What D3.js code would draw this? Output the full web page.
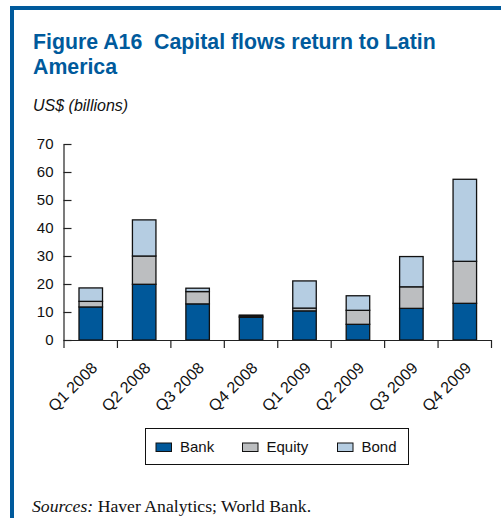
<!DOCTYPE html>
<html>
<head>
<meta charset="utf-8">
<script src="https://cdn.jsdelivr.net/npm/d3@7"></script>
<style>
  html, body { margin: 0; padding: 0; background: #fff; }
  svg { display: block; }
</style>
</head>
<body>
<script>
// Quarterly capital flows to Latin America, US$ billions
const quarters = ["Q1 2008", "Q2 2008", "Q3 2008", "Q4 2008", "Q1 2009", "Q2 2009", "Q3 2009", "Q4 2009"];
const bank   = [11.8, 19.9, 12.9, 8.1, 10.4, 5.6, 11.3, 13.1];
const equity = [2.0, 10.1, 4.4, 0.4, 1.0, 5.0, 7.7, 15.0];
const bond   = [4.8, 12.9, 1.2, 0.4, 9.7, 5.2, 10.8, 29.3];
const seriesNames = ["Bank", "Equity", "Bond"];
const yTicks = [0, 10, 20, 30, 40, 50, 60, 70];

const W = 501, H = 518;
const SANS = "'Liberation Sans', Arial, Helvetica, sans-serif";
const SERIF = "'Liberation Serif', 'Times New Roman', serif";
const frameBlue = "#005a9c";
const colors = { Bank: "#00589a", Equity: "#bcbec0", Bond: "#b5cde2" };

const svg = d3.select("body").append("svg").attr("width", W).attr("height", H);

// Frame: heavy rule along the top and left edges
svg.append("rect").attr("x", 10).attr("y", 6).attr("width", W - 10).attr("height", 4).attr("fill", frameBlue);
svg.append("rect").attr("x", 10).attr("y", 6).attr("width", 4).attr("height", H - 6).attr("fill", frameBlue);

// Title
const title = svg.append("text")
  .style("font-family", SANS).style("font-weight", "bold").style("font-size", "21.3px")
  .attr("fill", frameBlue);
title.append("tspan").attr("x", 33).attr("y", 49).text("Figure A16\u00a0\u00a0Capital flows return to Latin");
title.append("tspan").attr("x", 33).attr("y", 74).text("America");

svg.append("text").attr("x", 33).attr("y", 111)
  .style("font-family", SANS).style("font-style", "italic").style("font-size", "16px")
  .attr("fill", "#111")
  .text("US$ (billions)");

// Scales
const x0 = 63.5, x1 = 491;
const x = d3.scaleBand().domain(quarters).range([x0, x1]).padding(0);
const y = d3.scaleLinear().domain([0, 70]).range([340, 144]);

// Stacked layout
const rows = quarters.map((q, i) => ({ q, Bank: bank[i], Equity: equity[i], Bond: bond[i] }));
const stack = d3.stack().keys(seriesNames)(rows);

const barPad = 0.29, barFrac = 0.44;
svg.append("g").selectAll("g.series").data(stack).join("g")
  .attr("class", "series")
  .attr("fill", d => colors[d.key])
  .selectAll("rect").data(d => d).join("rect")
  .attr("x", d => x(d.data.q) + x.bandwidth() * barPad)
  .attr("width", x.bandwidth() * barFrac)
  .attr("y", d => y(d[1]))
  .attr("height", d => y(d[0]) - y(d[1]))
  .attr("stroke", "#111")
  .attr("stroke-width", 1.3);

// Y axis: ticks point inward
const yAxis = d3.axisLeft(y).tickValues(yTicks).tickSizeInner(-8).tickSizeOuter(0).tickPadding(10);
const ya = svg.append("g").attr("transform", `translate(${x0},0)`).call(yAxis);
ya.selectAll("text").style("font-family", SANS).style("font-size", "15px").attr("fill", "#111");
ya.selectAll("line, path").attr("stroke", "#222").attr("stroke-width", 1.2);

// X axis: ticks at category boundaries
const edge = d3.scaleLinear().domain([0, quarters.length]).range([x0, x1]);
const xAxis = d3.axisBottom(edge).tickValues(d3.range(quarters.length + 1)).tickFormat("").tickSizeInner(8).tickSizeOuter(0);
const xa = svg.append("g").attr("transform", "translate(0,340)").call(xAxis);
xa.selectAll("line, path").attr("stroke", "#222").attr("stroke-width", 1.2);

// Rotated category labels
svg.append("g").selectAll("text").data(quarters).join("text")
  .attr("transform", d => `translate(${x(d) + x.bandwidth() / 2 + 8},369) rotate(-45)`)
  .attr("text-anchor", "end")
  .style("font-family", SANS).style("font-size", "16px")
  .attr("fill", "#111")
  .text(d => d);

// Legend
const lg = svg.append("g");
lg.append("rect").attr("x", 145.5).attr("y", 428.5).attr("width", 263).attr("height", 36)
  .attr("fill", "none").attr("stroke", "#111").attr("stroke-width", 1);
const legendX = [156, 242.5, 337.5];
seriesNames.forEach((name, i) => {
  lg.append("rect").attr("x", legendX[i]).attr("y", 443).attr("width", 15.5).attr("height", 8.5)
    .attr("fill", colors[name]).attr("stroke", "#111").attr("stroke-width", 1);
  lg.append("text").attr("x", legendX[i] + 24).attr("y", 452)
    .style("font-family", SANS).style("font-size", "15px")
    .attr("fill", "#111").text(name);
});

// Sources note
const src = svg.append("text").attr("x", 32).attr("y", 512)
  .style("font-family", SERIF).style("font-size", "17.7px")
  .attr("fill", "#111");
src.append("tspan").style("font-style", "italic").text("Sources:");
src.append("tspan").text(" Haver Analytics; World Bank.");
</script>
</body>
</html>
